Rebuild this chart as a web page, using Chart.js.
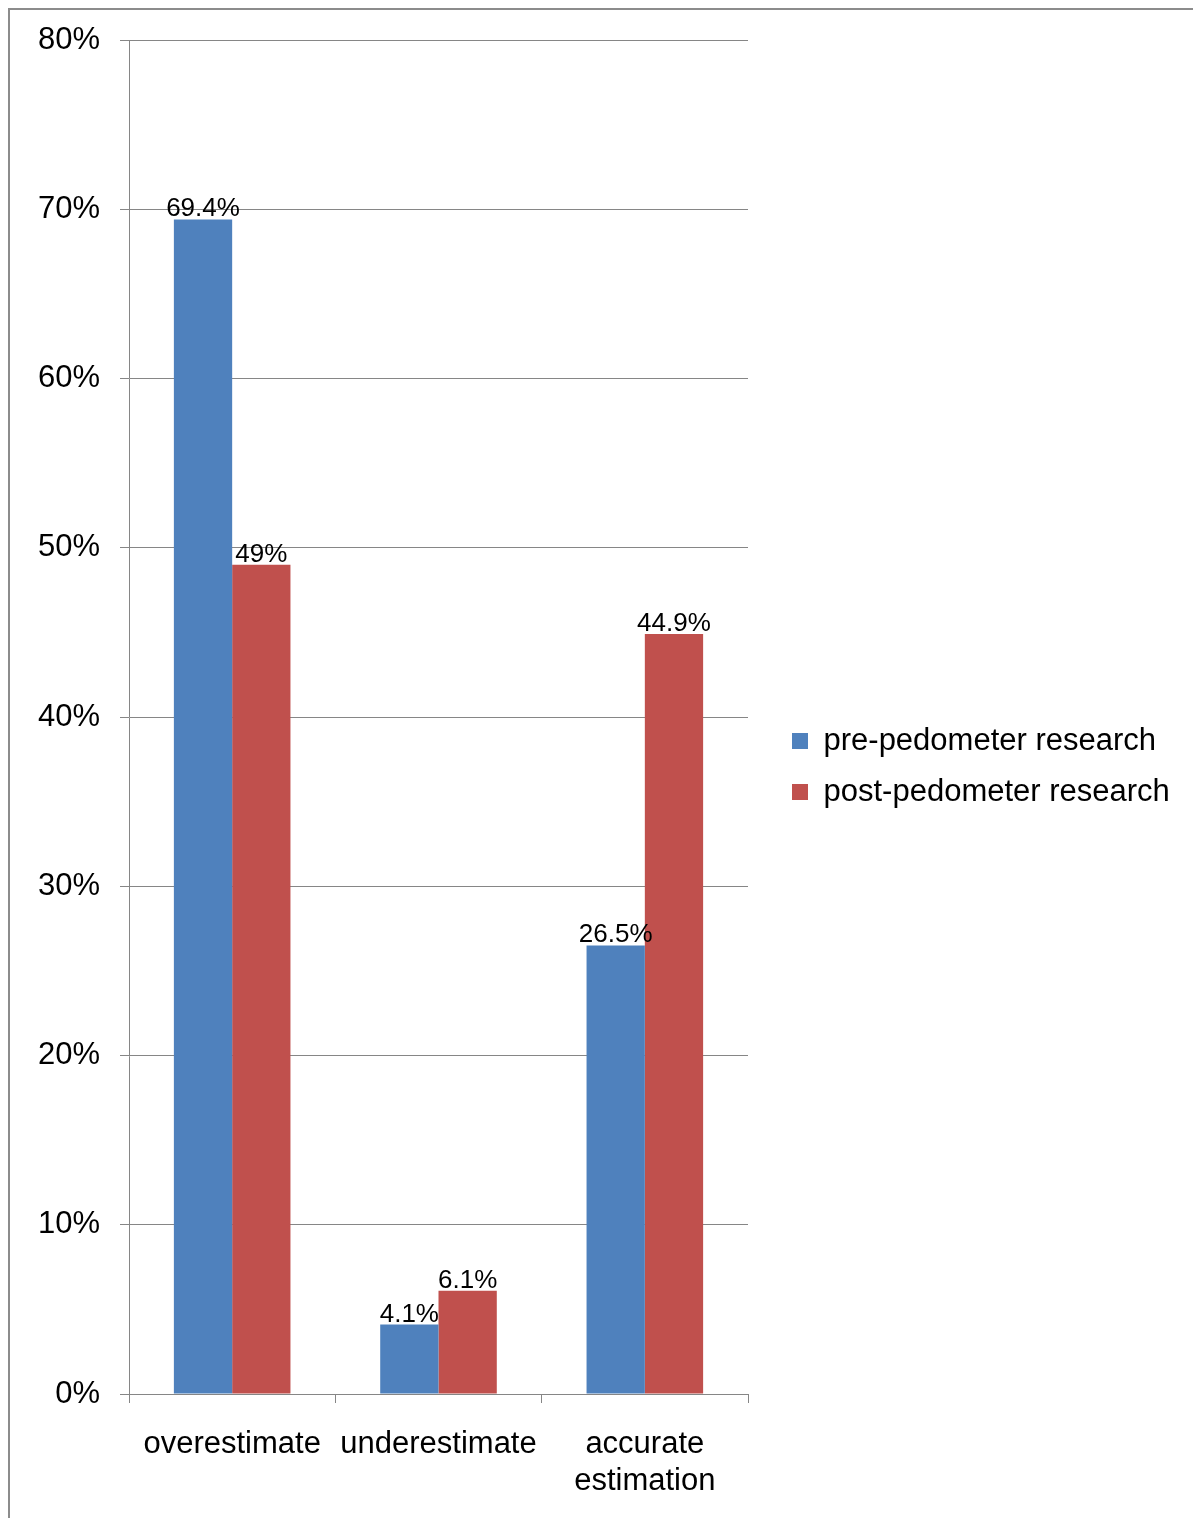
<!DOCTYPE html>
<html>
<head>
<meta charset="utf-8">
<script src="https://cdn.jsdelivr.net/npm/chart.js@4.4.1/dist/chart.umd.min.js"></script>
<style>
html, body { margin: 0; padding: 0; background: #fff; overflow: hidden; }
.wrap { position: relative; width: 1193px; height: 1518px; }
.frame { position: absolute; left: 8px; top: 8px; width: 1200px; height: 1530px; border-left: 2px solid #8c8c8c; border-top: 2px solid #8c8c8c; }
canvas { position: absolute; left: 0; top: 0; }
</style>
</head>
<body>
<div class="wrap">
  <div class="frame"></div>
  <canvas id="chart" width="1193" height="1518"></canvas>
</div>
<script>
const categories = ['overestimate', 'underestimate', ['accurate', 'estimation']]
const preValues = [69.4, 4.1, 26.5]
const postValues = [49, 6.1, 44.9]
const yTicks = [0, 10, 20, 30, 40, 50, 60, 70, 80]

const lineGray = '#868686'
Chart.defaults.font.family = '"Liberation Sans", Arial, sans-serif'
Chart.defaults.color = '#000'

// the layout caps a side legend at a fraction of the width, too narrow here
const wideLegend = {
    id: 'wideLegend',
    beforeLayout(chart) {
        const lg = chart.legend
        if (lg && !lg._wide) {
            const fit = lg.fit
            lg.fit = function() {
                fit.call(this)
                this.width = 421
            }
            lg._wide = true
        }
    }
}

// value labels over each bar
const barLabels = {
    id: 'barLabels',
    afterDatasetsDraw(chart) {
        const ctx = chart.ctx
        ctx.save()
        ctx.font = '26px "Liberation Sans", Arial, sans-serif'
        ctx.fillStyle = '#000'
        ctx.textAlign = 'center'
        ctx.textBaseline = 'alphabetic'
        chart.data.datasets.forEach((ds, i) => {
            chart.getDatasetMeta(i).data.forEach((bar, j) => {
                ctx.fillText(ds.data[j] + '%', bar.x, bar.y - 3)
            })
        })
        ctx.restore()
    }
}

const ctx = document.getElementById('chart')
new Chart(ctx, {
    type: 'bar',
    data: {
        labels: categories,
        datasets: [{
            label: 'pre-pedometer research',
            data: preValues,
            backgroundColor: '#4F81BD',
            borderWidth: 0,
            categoryPercentage: 0.565,
            barPercentage: 1
        },
        {
            label: 'post-pedometer research',
            data: postValues,
            backgroundColor: '#C0504D',
            borderWidth: 0,
            categoryPercentage: 0.565,
            barPercentage: 1
        }]
    },
    options: {
        responsive: false,
        animation: false,
        layout: {
            padding: { top: 40, left: 0, right: 0, bottom: 25 }
        },
        plugins: {
            tooltip: { enabled: false },
            legend: {
                position: 'right',
                align: 'center',
                labels: {
                    boxWidth: 16,
                    boxHeight: 16,
                    padding: 20,
                    color: '#000',
                    font: { size: 31 }
                }
            }
        },
        scales: {
            x: {
                grid: {
                    display: true,
                    drawOnChartArea: false,
                    drawTicks: true,
                    tickLength: 9,
                    color: lineGray,
                    offset: true
                },
                border: { color: lineGray, width: 1 },
                ticks: { font: { size: 31 }, color: '#000', padding: 23, maxRotation: 0 },
                afterFit(s) { s.height = 99 }
            },
            y: {
                min: 0,
                max: 80,
                afterBuildTicks(s) { s.ticks = yTicks.map(v => ({ value: v })) },
                ticks: {
                    font: { size: 31 },
                    color: '#000',
                    padding: 20,
                    callback: v => v + '%'
                },
                grid: { color: lineGray, tickLength: 9 },
                border: { color: lineGray, width: 1 },
                afterFit(s) { s.width = 129 }
            },
            yGap: {
                type: 'linear',
                position: 'right',
                display: true,
                grid: { display: false, drawTicks: false },
                ticks: { display: false },
                border: { display: false },
                afterFit(s) { s.width = 24 }
            }
        }
    },
    plugins: [wideLegend, barLabels]
})
</script>
</body>
</html>
